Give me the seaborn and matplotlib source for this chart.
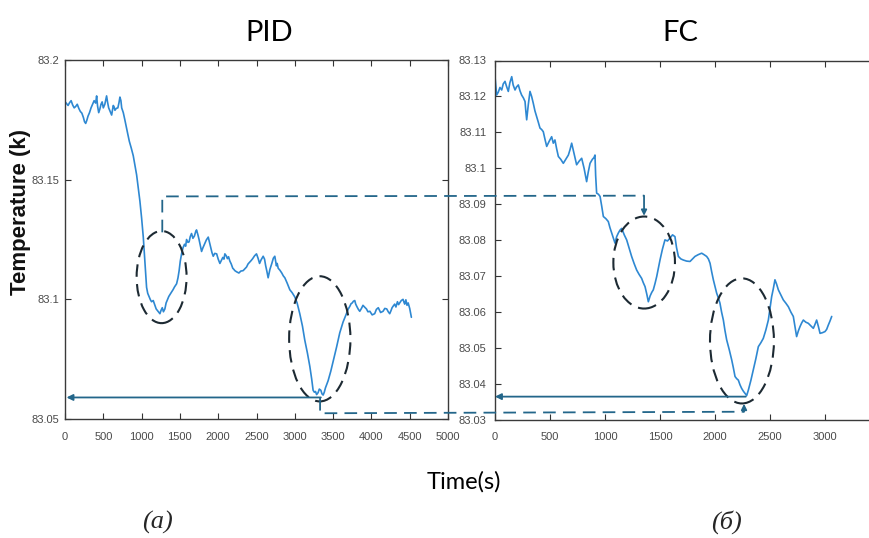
import numpy as np
import pandas as pd
import seaborn as sns
import matplotlib
matplotlib.use("Agg")
import matplotlib.pyplot as plt
from matplotlib.patches import Ellipse, FancyArrowPatch
from matplotlib.lines import Line2D

# ---------------- data ----------------
pid_time = [0, 20, 40, 60, 80, 100, 120, 140, 160, 180, 200, 220, 240, 255, 270, 285, 300, 320,
            340, 360, 380, 400, 413, 425, 440, 455, 470, 485, 500, 520, 543, 555, 570, 590, 609,
            620, 630, 640, 652, 670, 690, 705, 717, 730, 740, 750, 761, 780, 800, 820, 840, 865,
            891, 910, 935, 955, 978, 1000, 1022, 1045, 1065, 1080, 1100, 1115, 1130, 1152, 1170,
            1190, 1210, 1239, 1255, 1270, 1285, 1304, 1320, 1340, 1355, 1370, 1390, 1410, 1430,
            1457, 1475, 1490, 1505, 1522, 1540, 1560, 1575, 1587, 1605, 1620, 1635, 1652, 1670,
            1690, 1705, 1717, 1735, 1750, 1765, 1783, 1800, 1820, 1845, 1870, 1885, 1900, 1918,
            1935, 1955, 1980, 2000, 2022, 2040, 2060, 2075, 2087, 2105, 2120, 2135, 2152, 2170,
            2190, 2205, 2217, 2240, 2270, 2295, 2326, 2350, 2370, 2390, 2413, 2430, 2450, 2475,
            2500, 2520, 2540, 2560, 2587, 2605, 2620, 2635, 2652, 2675, 2700, 2720, 2739, 2750,
            2760, 2770, 2783, 2805, 2830, 2850, 2870, 2900, 2935, 2965, 3000, 3030, 3065, 3100,
            3130, 3165, 3196, 3220, 3239, 3255, 3270, 3285, 3304, 3320, 3340, 3355, 3370, 3385,
            3400, 3435, 3470, 3500, 3545, 3587, 3630, 3674, 3695, 3717, 3735, 3750, 3765, 3783,
            3795, 3810, 3830, 3848, 3870, 3890, 3910, 3935, 3955, 3980, 4010, 4043, 4065, 4090,
            4120, 4152, 4175, 4200, 4220, 4239, 4255, 4270, 4285, 4304, 4320, 4340, 4355, 4370,
            4390, 4413, 4425, 4435, 4450, 4465, 4480, 4500, 4522]
pid_temp = [83.1826, 83.1818, 83.1810, 83.1822, 83.1830, 83.1812, 83.1800, 83.1806, 83.1815,
            83.1798, 83.1785, 83.1778, 83.1760, 83.1742, 83.1735, 83.1748, 83.1765, 83.1780,
            83.1800, 83.1815, 83.1830, 83.1820, 83.1850, 83.1808, 83.1780, 83.1795, 83.1815,
            83.1825, 83.1800, 83.1815, 83.1850, 83.1825, 83.1800, 83.1785, 83.1770, 83.1790,
            83.1810, 83.1805, 83.1790, 83.1798, 83.1800, 83.1822, 83.1845, 83.1830, 83.1800,
            83.1790, 83.1780, 83.1752, 83.1720, 83.1690, 83.1660, 83.1632, 83.1600, 83.1565,
            83.1520, 83.1470, 83.1410, 83.1340, 83.1260, 83.1150, 83.1050, 83.1025, 83.1010,
            83.0998, 83.0990, 83.0995, 83.0978, 83.0960, 83.0952, 83.0940, 83.0955, 83.0965,
            83.0948, 83.0960, 83.0985, 83.1000, 83.1012, 83.1020, 83.1030, 83.1040, 83.1052,
            83.1065, 83.1090, 83.1120, 83.1160, 83.1190, 83.1215, 83.1230, 83.1222, 83.1250,
            83.1238, 83.1240, 83.1262, 83.1275, 83.1255, 83.1265, 83.1282, 83.1290, 83.1270,
            83.1250, 83.1228, 83.1200, 83.1215, 83.1230, 83.1248, 83.1260, 83.1240, 83.1220,
            83.1196, 83.1180, 83.1192, 83.1190, 83.1168, 83.1150, 83.1162, 83.1175, 83.1168,
            83.1190, 83.1182, 83.1170, 83.1178, 83.1160, 83.1148, 83.1130, 83.1125, 83.1120,
            83.1115, 83.1110, 83.1118, 83.1120, 83.1128, 83.1135, 83.1148, 83.1156, 83.1162,
            83.1170, 83.1182, 83.1190, 83.1172, 83.1150, 83.1165, 83.1180, 83.1168, 83.1140,
            83.1118, 83.1090, 83.1125, 83.1150, 83.1172, 83.1180, 83.1158, 83.1140, 83.1150,
            83.1130, 83.1122, 83.1110, 83.1098, 83.1090, 83.1068, 83.1040, 83.1028, 83.1010,
            83.0985, 83.0940, 83.0888, 83.0830, 83.0775, 83.0720, 83.0668, 83.0620, 83.0612,
            83.0615, 83.0602, 83.0610, 83.0625, 83.0620, 83.0605, 83.0600, 83.0612, 83.0630,
            83.0660, 83.0700, 83.0740, 83.0800, 83.0860, 83.0905, 83.0940, 83.0958, 83.0970,
            83.0982, 83.0985, 83.0992, 83.0995, 83.0980, 83.0970, 83.0958, 83.0950, 83.0962,
            83.0975, 83.0968, 83.0960, 83.0948, 83.0950, 83.0935, 83.0940, 83.0958, 83.0965,
            83.0945, 83.0950, 83.0962, 83.0960, 83.0948, 83.0940, 83.0952, 83.0965, 83.0972,
            83.0980, 83.0968, 83.0990, 83.0978, 83.0985, 83.0995, 83.1000, 83.0988, 83.0980,
            83.0998, 83.0975, 83.0985, 83.0962, 83.0925]

fc_time = [0, 15, 30, 45, 61, 75, 91, 105, 121, 135, 152, 165, 182, 195, 212, 228, 242, 258,
           273, 280, 288, 303, 318, 333, 348, 363, 379, 394, 409, 424, 439, 455, 470, 492, 515,
           530, 545, 560, 576, 598, 621, 645, 667, 682, 697, 720, 742, 765, 788, 810, 833, 848,
           864, 885, 900, 909, 915, 924, 940, 955, 970, 985, 1008, 1030, 1045, 1061, 1076, 1091,
           1106, 1121, 1136, 1152, 1175, 1197, 1220, 1242, 1265, 1288, 1310, 1333, 1348, 1364,
           1380, 1394, 1410, 1425, 1439, 1455, 1470, 1485, 1500, 1522, 1545, 1568, 1591, 1614,
           1636, 1650, 1667, 1690, 1712, 1742, 1773, 1795, 1818, 1848, 1879, 1900, 1924, 1940,
           1955, 1970, 1985, 2000, 2015, 2030, 2045, 2060, 2076, 2090, 2106, 2130, 2152, 2167,
           2182, 2197, 2212, 2227, 2242, 2258, 2273, 2288, 2303, 2326, 2348, 2371, 2394, 2417,
           2439, 2462, 2485, 2500, 2515, 2530, 2545, 2560, 2576, 2598, 2621, 2644, 2667, 2690,
           2712, 2727, 2742, 2758, 2773, 2788, 2803, 2826, 2848, 2871, 2894, 2909, 2924, 2940,
           2955, 2978, 3000, 3015, 3030, 3045, 3061]
fc_temp = [83.1255, 83.1204, 83.1212, 83.1225, 83.1218, 83.1235, 83.1242, 83.1228, 83.1214,
           83.1238, 83.1255, 83.1232, 83.1218, 83.1226, 83.1232, 83.1215, 83.1204, 83.1196,
           83.1186, 83.1160, 83.1135, 83.1178, 83.1214, 83.1200, 83.1181, 83.1160, 83.1144,
           83.1128, 83.1112, 83.1108, 83.1102, 83.1080, 83.1061, 83.1075, 83.1088, 83.1070,
           83.1079, 83.1055, 83.1033, 83.1025, 83.1014, 83.1026, 83.1037, 83.1052, 83.1070,
           83.1040, 83.1010, 83.1020, 83.1028, 83.1000, 83.0963, 83.0990, 83.1014, 83.1025,
           83.1030, 83.1037, 83.0980, 83.0931, 83.0928, 83.0922, 83.0895, 83.0866, 83.0860,
           83.0852, 83.0835, 83.0820, 83.0805, 83.0792, 83.0810, 83.0820, 83.0828, 83.0833,
           83.0815, 83.0801, 83.0778, 83.0755, 83.0735, 83.0717, 83.0705, 83.0694, 83.0682,
           83.0671, 83.0650, 83.0629, 83.0645, 83.0655, 83.0662, 83.0680, 83.0699, 83.0722,
           83.0745, 83.0775, 83.0801, 83.0798, 83.0806, 83.0815, 83.0810, 83.0780, 83.0755,
           83.0748, 83.0745, 83.0742, 83.0741, 83.0748, 83.0755, 83.0760, 83.0764, 83.0760,
           83.0755, 83.0748, 83.0736, 83.0712, 83.0690, 83.0672, 83.0653, 83.0640, 83.0625,
           83.0600, 83.0578, 83.0550, 83.0523, 83.0495, 83.0467, 83.0445, 83.0421, 83.0415,
           83.0411, 83.0398, 83.0388, 83.0380, 83.0374, 83.0368, 83.0383, 83.0410, 83.0439,
           83.0470, 83.0504, 83.0515, 83.0527, 83.0550, 83.0578, 83.0610, 83.0643, 83.0665,
           83.0690, 83.0678, 83.0662, 83.0648, 83.0634, 83.0625, 83.0615, 83.0600, 83.0588,
           83.0560, 83.0532, 83.0548, 83.0560, 83.0570, 83.0578, 83.0572, 83.0569, 83.0562,
           83.0555, 83.0566, 83.0578, 83.0560, 83.0541, 83.0543, 83.0546, 83.0552, 83.0564,
           83.0575, 83.0588]

titles = ["PID", "FC"]
pid_xticks = [0, 500, 1000, 1500, 2000, 2500, 3000, 3500, 4000, 4500, 5000]
pid_yticks = [83.05, 83.1, 83.15, 83.2]
pid_ylabels = ["83.05", "83.1", "83.15", "83.2"]
fc_xticks = [0, 500, 1000, 1500, 2000, 2500, 3000]
fc_yticks = [83.03, 83.04, 83.05, 83.06, 83.07, 83.08, 83.09, 83.1, 83.11, 83.12, 83.13]
fc_ylabels = ["83.03", "83.04", "83.05", "83.06", "83.07", "83.08", "83.09", "83.1",
              "83.11", "83.12", "83.13"]
ylabel = "Temperature (k)"
xlabel = "Time(s)"
panel_labels = ["(a)", "(\u0431)"]

# ---------------- style ----------------
sns.set_theme(style="white")
plt.rcParams["font.family"] = ["Liberation Sans", "DejaVu Sans"]
W, H = 869, 538
fig = plt.figure(figsize=(W / 100, H / 100), dpi=100)
fig.patch.set_facecolor("white")


def px_rect(x0, y0, x1, y1):
    return [x0 / W, 1 - y1 / H, (x1 - x0) / W, (y1 - y0) / H]


ax1 = fig.add_axes(px_rect(65, 60, 448, 419))
ax2 = fig.add_axes(px_rect(495, 60.5, 880, 420))

line_color = "#2e88d2"
tick_font = ["Liberation Sans Narrow", "Liberation Sans", "DejaVu Sans"]
tick_color = "#4a4a4a"

df1 = pd.DataFrame({"t": pid_time, "T": pid_temp})
df2 = pd.DataFrame({"t": fc_time, "T": fc_temp})
sns.lineplot(data=df1, x="t", y="T", ax=ax1, color=line_color, lw=1.2, estimator=None, sort=False)
sns.lineplot(data=df2, x="t", y="T", ax=ax2, color=line_color, lw=1.2, estimator=None, sort=False)

ax1.set_xlim(0, 5000)
ax1.set_ylim(83.05, 83.2)
ax2.set_xlim(0, 3500)
ax2.set_ylim(83.03, 83.13)

for ax, xt, yt, yl in [(ax1, pid_xticks, pid_yticks, pid_ylabels),
                       (ax2, fc_xticks, fc_yticks, fc_ylabels)]:
    ax.set_xticks(xt)
    ax.set_xticklabels([str(v) for v in xt])
    ax.set_yticks(yt)
    ax.set_yticklabels(yl)
    ax.set_xlabel("")
    ax.set_ylabel("")
    ax.tick_params(direction="in", length=4, width=0.8, color="#333333",
                   top=True, right=True, bottom=True, left=True,
                   labelsize=8, labelcolor=tick_color)
    ax.tick_params(axis="x", pad=9)
    ax.tick_params(axis="y", pad=4)
    for lab in ax.get_xticklabels() + ax.get_yticklabels():
        lab.set_family(tick_font)
    for sp in ax.spines.values():
        sp.set_visible(True)
        sp.set_color("#3a3a3a")
        sp.set_linewidth(1.0)
    ax.set_facecolor("white")
ax2.tick_params(axis="y", pad=6)

# titles and labels
fig.text(269 / W, 1 - 33 / H, titles[0], fontsize=21, family=["Lato", "DejaVu Sans"],
         ha="center", va="center", color="black")
fig.text(680 / W, 1 - 33 / H, titles[1], fontsize=21, family=["Lato", "DejaVu Sans"],
         ha="center", va="center", color="black")
fig.text(21 / W, 1 - 212 / H, ylabel, rotation=90, fontsize=16, fontweight="bold",
         ha="center", va="center", color="#111111")
fig.text(464 / W, 1 - 482 / H, xlabel, fontsize=17, family=["Lato", "DejaVu Sans"],
         ha="center", va="center", color="black")
fig.text(157 / W, 1 - 522 / H, panel_labels[0], fontsize=19, style="italic",
         family=["Liberation Serif", "DejaVu Serif"], ha="center", va="center")
fig.text(726 / W, 1 - 522 / H, panel_labels[1], fontsize=19, style="italic",
         family=["Liberation Serif", "DejaVu Serif"], ha="center", va="center")

# ellipses (dashed)
ell_color = "#1d2a33"
for ax, (cx, cy, w, h) in [(ax1, (1261, 83.1093, 652, 0.0385)),
                           (ax1, (3326, 83.0835, 800, 0.0523)),
                           (ax2, (1356, 83.0738, 560, 0.0256)),
                           (ax2, (2245, 83.0520, 581, 0.0348))]:
    e = Ellipse((cx, cy), w, h, fill=False, edgecolor=ell_color, lw=1.5,
                linestyle=(0, (6, 3.5)), clip_on=False, zorder=5)
    ax.add_patch(e)

# connectors across the two panels
conn_color = "#23668a"
inv = fig.transFigure.inverted()


def F(ax, x, y):
    return tuple(inv.transform(ax.transData.transform((x, y))))


dash = (0, (7, 4))
# upper dashed connector PID first dip -> FC first dip
p = [F(ax1, 1270, 83.128), F(ax1, 1270, 83.143), F(ax2, 1355, 83.0924)]
fig.add_artist(Line2D([q[0] for q in p], [q[1] for q in p], color=conn_color, lw=1.3,
                      linestyle=dash, transform=fig.transFigure))
fig.add_artist(FancyArrowPatch(F(ax2, 1355, 83.0924), F(ax2, 1355, 83.0868),
                               transform=fig.transFigure, arrowstyle="-|>", mutation_scale=8,
                               color=conn_color, lw=1.3, shrinkA=0, shrinkB=0))
# lower dashed connector PID second dip -> FC second dip
p = [F(ax1, 3330, 83.0588), F(ax1, 3330, 83.0524), F(ax2, 2264, 83.0323)]
fig.add_artist(Line2D([q[0] for q in p], [q[1] for q in p], color=conn_color, lw=1.3,
                      linestyle=dash, transform=fig.transFigure))
fig.add_artist(FancyArrowPatch(F(ax2, 2264, 83.0323), F(ax2, 2264, 83.0345),
                               transform=fig.transFigure, arrowstyle="-|>", mutation_scale=8,
                               color=conn_color, lw=1.3, shrinkA=0, shrinkB=0))
# solid arrows to the axes
fig.add_artist(FancyArrowPatch(F(ax1, 3340, 83.0590), F(ax1, 20, 83.0590),
                               transform=fig.transFigure, arrowstyle="-|>", mutation_scale=9,
                               color=conn_color, lw=1.3, shrinkA=0, shrinkB=0))
fig.add_artist(FancyArrowPatch(F(ax2, 2280, 83.0365), F(ax2, 0, 83.0365),
                               transform=fig.transFigure, arrowstyle="-|>", mutation_scale=9,
                               color=conn_color, lw=1.3, shrinkA=0, shrinkB=0))

fig.savefig("out.png", dpi=100, facecolor="white")
